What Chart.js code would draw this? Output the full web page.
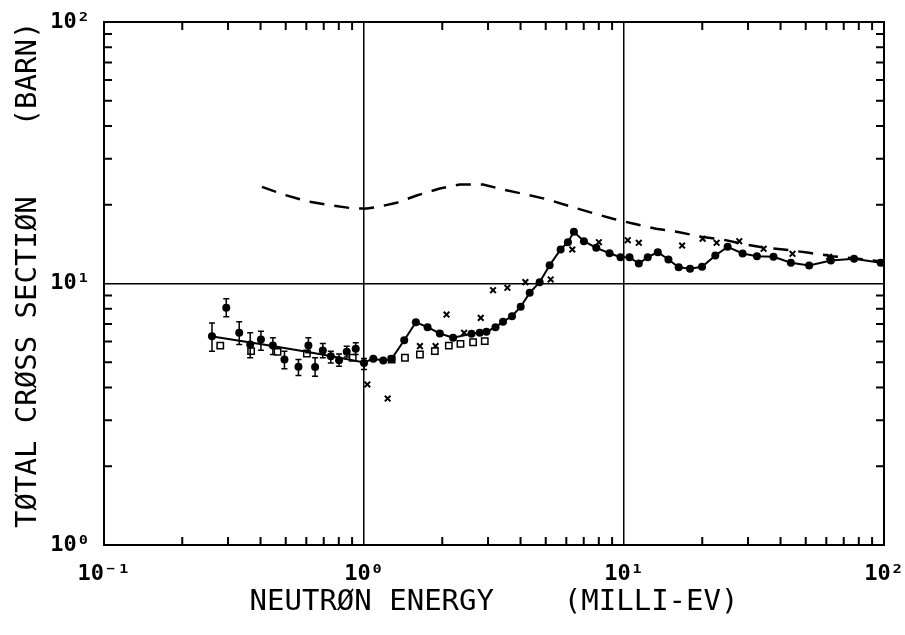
<!DOCTYPE html>
<html>
<head>
<meta charset="utf-8">
<script src="https://cdn.jsdelivr.net/npm/chart.js@4"></script>
<style>
  html, body { margin: 0; padding: 0; background: #fff; }
  #chart { display: block; }
</style>
</head>
<body>
<canvas id="chart" width="905" height="635"></canvas>
<script>
'use strict'

// axis decades (milli-eV, barn)
const xDecades = [0.1, 1, 10, 100]
const yDecades = [1, 10, 100]
const tickLabels = { 0.1: '10⁻¹', 1: '10⁰', 10: '10¹', 100: '10²' }

// dashed curve (upper)
const dashE = [0.405, 0.49, 0.603, 0.74, 0.91, 1.024, 1.119, 1.335, 1.594, 1.957, 2.336, 2.871,
  3.425, 4.213, 5.099, 6.178, 7.373, 9.06, 10.81, 13.29, 16.33, 19.79, 23.95, 29.45, 35.15,
  43.19, 51.53, 63.31, 99.1]
const dashS = [23.43, 21.89, 20.64, 19.93, 19.36, 19.36, 19.58, 20.35, 21.7, 23.08, 23.91, 23.91,
  22.88, 21.89, 20.95, 19.75, 18.74, 17.68, 16.96, 16.19, 15.71, 15.09, 14.73, 14.1, 13.69,
  13.41, 13.1, 12.72, 12.14]

// solid curve
const fitE = [0.261, 0.399, 0.594, 0.76, 1.0, 1.086, 1.186, 1.277, 1.428, 1.583, 1.756, 1.957,
  2.202, 2.591, 2.788, 2.958, 3.204, 3.425, 3.709, 4.006, 4.338, 4.738, 5.176, 5.704, 6.085,
  6.417, 7.01, 7.823, 8.797, 9.696, 10.5, 11.4, 12.34, 13.49, 14.82, 16.23, 17.95, 19.96,
  22.45, 25.03, 28.58, 32.46, 37.58, 43.84, 51.53, 62.44, 76.71, 97.1]
const fitS = [6.27, 5.87, 5.5, 5.26, 4.99, 5.15, 5.08, 5.15, 6.07, 7.11, 6.81, 6.44,
  6.2, 6.42, 6.48, 6.54, 6.81, 7.14, 7.5, 8.15, 9.21, 10.12, 11.75, 13.49, 14.39,
  15.77, 14.51, 13.69, 13.05, 12.61, 12.61, 11.93, 12.61, 13.17, 12.35, 11.54, 11.38, 11.58,
  12.79, 13.81, 13.02, 12.72, 12.65, 12.0, 11.72, 12.25, 12.43, 12.0]

// filled circles with error bars (low energy)
const dotE = [0.2602, 0.2953, 0.3312, 0.365, 0.4014, 0.4462, 0.4943, 0.5596, 0.6111, 0.6484,
  0.6943, 0.7453, 0.8017, 0.8582, 0.9293, 1.0]
const dotS = [6.29, 8.07, 6.48, 5.85, 6.11, 5.79, 5.12, 4.8, 5.79, 4.79,
  5.54, 5.27, 5.09, 5.48, 5.63, 4.97]
const dotLo = [5.51, 7.46, 5.85, 5.2, 5.56, 5.35, 4.72, 4.45, 5.43, 4.42,
  5.2, 4.97, 4.83, 5.24, 5.35, 4.69]
const dotHi = [7.07, 8.74, 7.14, 6.48, 6.57, 6.2, 5.51, 5.12, 6.2, 5.2,
  5.9, 5.51, 5.38, 5.76, 5.93, 5.17]

// filled circles on the solid curve (above 1 meV)
const onE = fitE.slice(5)
const onS = fitS.slice(5)

// open squares
const boxE = [0.28, 0.368, 0.465, 0.603, 0.905, 1.277, 1.437, 1.641, 1.873, 2.12, 2.35, 2.628, 2.914]
const boxS = [5.79, 5.51, 5.48, 5.4, 5.2, 5.12, 5.2, 5.35, 5.51, 5.79, 5.88, 5.96, 6.02]

// crosses
const crossE = [1.03, 1.233, 1.641, 1.885, 2.077, 2.427, 2.812, 3.136, 3.561, 4.176, 5.224,
  6.326, 8.004, 10.34, 11.4, 16.73, 20.07, 22.71, 27.76, 34.42, 44.46, 61.5]
const crossS = [4.11, 3.63, 5.76, 5.76, 7.61, 6.48, 7.39, 9.43, 9.63, 10.12, 10.36,
  13.49, 14.39, 14.64, 14.31, 13.97, 14.83, 14.31, 14.51, 13.57, 12.99, 12.65]

const pts = (xs, ys) => xs.map((x, i) => ({ x: x, y: ys[i] }))

const tickFont = { family: 'DejaVu Sans Mono', size: 22, weight: 'bold' }
const titleFont = { family: 'DejaVu Sans Mono', size: 29, weight: 'normal', lineHeight: 1 }

// box, inward minor ticks and error bars
const framePlugin = {
  id: 'frame',
  afterDatasetsDraw(chart) {
    const { ctx, chartArea: a, scales } = chart
    const xs = scales.x
    const ys = scales.y
    ctx.save()
    ctx.strokeStyle = '#000'

    // error bars
    ctx.lineWidth = 1.5
    dotE.forEach((e, i) => {
      const px = xs.getPixelForValue(e)
      const lo = ys.getPixelForValue(dotLo[i])
      const hi = ys.getPixelForValue(dotHi[i])
      ctx.beginPath()
      ctx.moveTo(px, lo)
      ctx.lineTo(px, hi)
      ctx.moveTo(px - 3, lo)
      ctx.lineTo(px + 3, lo)
      ctx.moveTo(px - 3, hi)
      ctx.lineTo(px + 3, hi)
      ctx.stroke()
    })

    // minor ticks
    ctx.lineWidth = 2
    const len = 8
    ctx.beginPath()
    xDecades.slice(0, -1).forEach((d) => {
      for (let m = 2; m <= 9; m++) {
        const px = xs.getPixelForValue(d * m)
        ctx.moveTo(px, a.bottom)
        ctx.lineTo(px, a.bottom - len)
        ctx.moveTo(px, a.top)
        ctx.lineTo(px, a.top + len)
      }
    })
    yDecades.slice(0, -1).forEach((d) => {
      for (let m = 2; m <= 9; m++) {
        const py = ys.getPixelForValue(d * m)
        ctx.moveTo(a.left, py)
        ctx.lineTo(a.left + len, py)
        ctx.moveTo(a.right, py)
        ctx.lineTo(a.right - len, py)
      }
    })
    ctx.stroke()

    ctx.lineWidth = 2
    ctx.strokeRect(a.left, a.top, a.right - a.left, a.bottom - a.top)
    ctx.restore()
  },
}

const chart = new Chart(document.getElementById('chart').getContext('2d'), {
  type: 'scatter',
  data: {
    datasets: [
      {
        label: 'dashed',
        data: pts(dashE, dashS),
        showLine: true,
        borderColor: '#000',
        borderWidth: 2.5,
        borderDash: [15, 10],
        pointRadius: 0,
      },
      {
        label: 'fit',
        data: pts(fitE, fitS),
        showLine: true,
        borderColor: '#000',
        borderWidth: 2,
        pointRadius: 0,
      },
      {
        label: 'dots',
        data: pts(dotE, dotS).concat(pts(onE, onS)),
        backgroundColor: '#000',
        borderColor: '#000',
        pointRadius: 4,
        borderWidth: 0,
      },
      {
        label: 'boxes',
        data: pts(boxE, boxS),
        pointStyle: 'rect',
        backgroundColor: '#fff',
        borderColor: '#000',
        borderWidth: 1.5,
        pointRadius: 4.5,
      },
      {
        label: 'crosses',
        data: pts(crossE, crossS),
        pointStyle: 'crossRot',
        borderColor: '#000',
        borderWidth: 2,
        pointRadius: 4,
      },
    ],
  },
  options: {
    responsive: false,
    animation: false,
    layout: { padding: { left: 0, right: 21, top: 22, bottom: 0 } },
    plugins: { legend: { display: false }, tooltip: { enabled: false } },
    scales: {
      x: {
        type: 'logarithmic',
        min: 0.1,
        max: 100,
        afterBuildTicks: (scale) => {
          scale.ticks = xDecades.map((v) => ({ value: v }))
        },
        afterFit: (scale) => {
          scale.height = 90
          scale.paddingLeft = 0
          scale.paddingRight = 0
        },
        ticks: {
          color: '#000',
          font: tickFont,
          padding: 16,
          maxRotation: 0,
          autoSkip: false,
          callback: (v) => tickLabels[v] || '',
        },
        grid: { color: '#000', lineWidth: 1.5, drawTicks: false },
        border: { display: false },
        title: {
          display: true,
          text: 'NEUTRØN ENERGY    (MILLI-EV)',
          color: '#000',
          font: titleFont,
          padding: { top: 0, bottom: 18 },
        },
      },
      y: {
        type: 'logarithmic',
        min: 1,
        max: 100,
        afterBuildTicks: (scale) => {
          scale.ticks = yDecades.map((v) => ({ value: v }))
        },
        afterFit: (scale) => {
          scale.width = 104
          scale.paddingTop = 0
          scale.paddingBottom = 0
        },
        ticks: {
          color: '#000',
          font: tickFont,
          padding: 14,
          autoSkip: false,
          callback: (v) => tickLabels[v] || '',
        },
        grid: { color: '#000', lineWidth: 1.5, drawTicks: false },
        border: { display: false },
        title: {
          display: true,
          text: ' TØTAL CRØSS SECTIØN    (BARN)',
          color: '#000',
          font: titleFont,
          padding: { top: 14, bottom: 0 },
        },
      },
    },
  },
  plugins: [framePlugin],
})
</script>
</body>
</html>
